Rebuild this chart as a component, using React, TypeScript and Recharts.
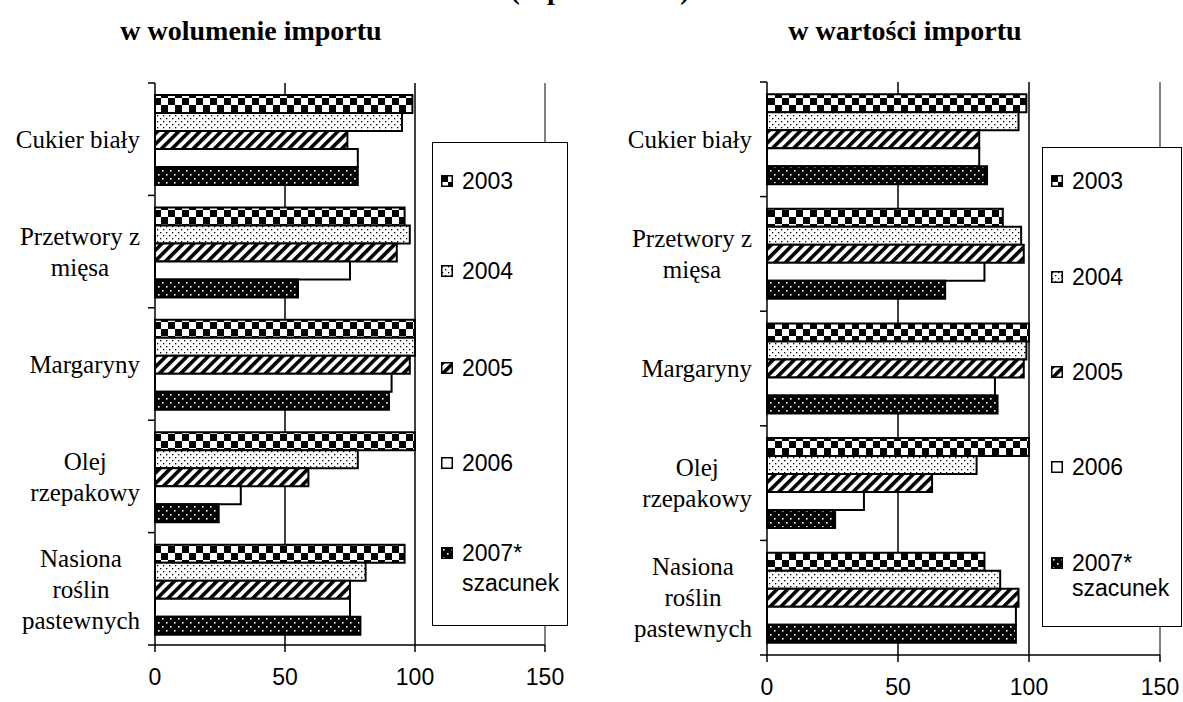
import React from 'react';
import { BarChart, Bar, XAxis, YAxis, CartesianGrid, Legend, ReferenceLine } from 'recharts';

// ---------- data ----------
const categories = ['Cukier biały', 'Przetwory z mięsa', 'Margaryny', 'Olej rzepakowy', 'Nasiona roślin pastewnych'];
const categoryLines = [['Cukier biały'], ['Przetwory z', 'mięsa'], ['Margaryny'], ['Olej', 'rzepakowy'], ['Nasiona', 'roślin', 'pastewnych']];
const seriesKeys = ['y2003', 'y2004', 'y2005', 'y2006', 'y2007'];
const seriesNames = ['2003', '2004', '2005', '2006', '2007* szacunek'];
const legendLines = [['2003'], ['2004'], ['2005'], ['2006'], ['2007*', 'szacunek']];
const xTicks = [0, 50, 100, 150];
const gridValues = [50, 100];

// w wolumenie importu
const volume2003 = [99, 96, 100, 100, 96];
const volume2004 = [95, 98, 100, 78, 81];
const volume2005 = [74, 93, 98, 59, 75];
const volume2006 = [78, 75, 91, 33, 75];
const volume2007 = [78, 55, 90, 24.5, 79];

// w wartości importu
const value2003 = [99, 90, 100, 100, 83];
const value2004 = [96, 97, 99, 80, 89];
const value2005 = [81, 98, 98, 63, 96];
const value2006 = [81, 83, 87, 37, 95];
const value2007 = [84, 68, 88, 26, 95];

const titleTop = '(w procentach)';
const titleLeft = 'w wolumenie importu';
const titleRight = 'w wartości importu';

const buildData = (s: number[][]) =>
  categories.map((name, i) => {
    const row: any = { name };
    seriesKeys.forEach((k, j) => (row[k] = s[j][i]));
    return row;
  });

const volumeData = buildData([volume2003, volume2004, volume2005, volume2006, volume2007]);
const valueData = buildData([value2003, value2004, value2005, value2006, value2007]);

// ---------- styles ----------
const SERIF = "'Liberation Serif', 'Times New Roman', serif";
const SANS = "'Liberation Sans', Arial, sans-serif";

const patternDefs = (p: string) => (
  <defs>
    <pattern id={`${p}-checker`} width={14} height={14} patternUnits="userSpaceOnUse">
      <rect width={14} height={14} fill="#fff" />
      <rect x={0} y={0} width={7} height={7} fill="#000" />
      <rect x={7} y={7} width={7} height={7} fill="#000" />
    </pattern>
    <pattern id={`${p}-dots`} width={6} height={6} patternUnits="userSpaceOnUse">
      <rect width={6} height={6} fill="#fff" />
      <rect x={1} y={1} width={1.3} height={1.3} fill="#000" />
      <rect x={4} y={4} width={1.3} height={1.3} fill="#000" />
    </pattern>
    <pattern id={`${p}-diag`} width={7.5} height={7.5} patternUnits="userSpaceOnUse" patternTransform="rotate(45)">
      <rect width={7.5} height={7.5} fill="#fff" />
      <rect x={0} y={0} width={3.6} height={7.5} fill="#000" />
    </pattern>
    <pattern id={`${p}-darkdots`} width={8} height={8} patternUnits="userSpaceOnUse">
      <rect width={8} height={8} fill="#000" />
      <rect x={2} y={2} width={1.6} height={1.6} fill="#fff" />
      <rect x={6} y={6} width={1.6} height={1.6} fill="#fff" />
    </pattern>
  </defs>
);

const fillFor = (p: string, i: number) =>
  [`url(#${p}-checker)`, `url(#${p}-dots)`, `url(#${p}-diag)`, '#fff', `url(#${p}-darkdots)`][i];

let measureCtx: CanvasRenderingContext2D | null = null;
const textWidth = (s: string, font: string) => {
  if (!measureCtx && typeof document !== 'undefined') {
    measureCtx = document.createElement('canvas').getContext('2d');
  }
  if (!measureCtx) return s.length * 11;
  measureCtx.font = font;
  return measureCtx.measureText(s).width;
};

const makeYTick = (axisX: number, bandHalf: number) => (props: any) => {
  const { y, payload } = props;
  const idx = categories.indexOf(payload.value);
  const lines = categoryLines[idx] || [String(payload.value)];
  const off = typeof payload.offset === 'number' && payload.offset > 0 ? payload.offset : bandHalf;
  const font = '25px "Liberation Serif"';
  const w = Math.max(...lines.map((l) => textWidth(l, font)));
  const cx = axisX - 15 - w / 2;
  const last = idx === categories.length - 1;
  return (
    <g>
      <line x1={axisX - 7} x2={axisX} y1={y - off} y2={y - off} stroke="#000" strokeWidth={1.5} />
      {last && <line x1={axisX - 7} x2={axisX} y1={y + off} y2={y + off} stroke="#000" strokeWidth={1.5} />}
      <text textAnchor="middle" fontFamily={SERIF} fontSize={25} fill="#000">
        {lines.map((l, i) => (
          <tspan key={i} x={cx} y={y + (i - (lines.length - 1) / 2) * 31} dy="0.35em">
            {l}
          </tspan>
        ))}
      </text>
    </g>
  );
};

const makeLegend = (prefix: string, box: any, rows: number[], line2Gap: number) => (props: any) => {
  const payload = props.payload || [];
  return (
    <div
      style={{
        position: 'relative',
        width: box.w,
        height: box.h,
        border: '1.5px solid #000',
        boxSizing: 'border-box',
        background: '#fff',
        fontFamily: SANS,
        fontSize: 23,
        color: '#000',
      }}
    >
      {payload.map((entry: any, i: number) => {
        const lines = legendLines[i] || [String(entry.value)];
        const rowTop = rows[i] - box.top;
        return (
          <div key={i}>
            <svg
              width={12}
              height={12}
              style={{ position: 'absolute', left: 8, top: rowTop - 7 }}
            >
              <rect x={0.75} y={0.75} width={10.5} height={10.5} fill={fillFor(prefix, i)} stroke="#000" strokeWidth={1.5} />
            </svg>
            {lines.map((l, j) => (
              <div
                key={j}
                style={{
                  position: 'absolute',
                  left: 29,
                  top: rowTop - 14 + j * line2Gap,
                  lineHeight: '26px',
                  whiteSpace: 'nowrap',
                }}
              >
                {l}
              </div>
            ))}
          </div>
        );
      })}
    </div>
  );
};

function Panel(cfg: any) {
  const {
    prefix, data, panelLeft, width, yAxisWidth, marginRight, marginTop, xAxisHeight,
    legendBox, legendRows, line2Gap,
  } = cfg;
  const height = 702;
  const bandHalf = (height - marginTop - xAxisHeight) / categories.length / 2;
  return (
    <div style={{ position: 'absolute', left: panelLeft, top: 0 }}>
      <BarChart
        width={width}
        height={height}
        data={data}
        layout="vertical"
        margin={{ top: marginTop, right: marginRight, bottom: 0, left: 0 }}
        barCategoryGap="10.7%"
        barGap={0}
      >
        {patternDefs(prefix)}
        <CartesianGrid horizontal={false} vertical verticalValues={gridValues} stroke="#000" strokeWidth={1.5} />
        <XAxis
          type="number"
          domain={[0, 150]}
          ticks={xTicks}
          interval={0}
          height={xAxisHeight}
          tickSize={7}
          tickMargin={17}
          axisLine={{ stroke: '#000', strokeWidth: 1.5 }}
          tickLine={{ stroke: '#000', strokeWidth: 1.5 }}
          tick={{ fill: '#000', fontSize: 23, fontFamily: SANS }}
        />
        <XAxis
          xAxisId="top"
          orientation="top"
          type="number"
          domain={[0, 150]}
          height={0}
          tick={false}
          tickLine={false}
          axisLine={{ stroke: '#808080', strokeWidth: 2 }}
        />
        <YAxis
          type="category"
          dataKey="name"
          width={yAxisWidth}
          interval={0}
          tickLine={false}
          tickSize={7}
          tickMargin={0}
          axisLine={{ stroke: '#000', strokeWidth: 1.5 }}
          tick={makeYTick(yAxisWidth, bandHalf)}
        />
        <ReferenceLine x={150} stroke="#808080" strokeWidth={2} />
        {seriesKeys.map((k, i) => (
          <Bar
            key={k}
            dataKey={k}
            name={seriesNames[i]}
            fill={fillFor(prefix, i)}
            stroke="#000"
            strokeWidth={2}
            isAnimationActive={false}
          />
        ))}
        <Legend
          layout="horizontal"
          verticalAlign="middle"
          align="center"
          content={makeLegend(prefix, legendBox, legendRows, line2Gap)}
          wrapperStyle={{ position: 'absolute', left: legendBox.left, top: legendBox.top, width: legendBox.w, height: legendBox.h }}
        />
      </BarChart>
    </div>
  );
}

export default function App() {
  return (
    <div
      style={{
        position: 'absolute',
        left: 0,
        top: 0,
        width: 1183,
        height: 702,
        background: '#fff',
        overflow: 'hidden',
      }}
    >
      <svg width={1183} height={702} style={{ position: 'absolute', left: 0, top: 0 }}>
        <text x={600} y={-1} textAnchor="middle" fontFamily={SERIF} fontWeight="bold" fontSize={28} fill="#000">
          {titleTop}
        </text>
        <text x={251} y={40} textAnchor="middle" fontFamily={SERIF} fontWeight="bold" fontSize={28} fill="#000">
          {titleLeft}
        </text>
        <text x={905} y={40} textAnchor="middle" fontFamily={SERIF} fontWeight="bold" fontSize={28} fill="#000">
          {titleRight}
        </text>
      </svg>
      <Panel
        prefix="l"
        data={volumeData}
        panelLeft={0}
        width={600}
        yAxisWidth={155}
        marginRight={55}
        marginTop={83}
        xAxisHeight={57}
        legendBox={{ left: 432, top: 142, w: 136, h: 484 }}
        legendRows={[181, 271, 368, 463, 553]}
        line2Gap={30}
      />
      <Panel
        prefix="r"
        data={valueData}
        panelLeft={600}
        width={583}
        yAxisWidth={167}
        marginRight={23}
        marginTop={82}
        xAxisHeight={47}
        legendBox={{ left: 442, top: 147, w: 140, h: 480 }}
        legendRows={[181, 277, 372, 467, 563]}
        line2Gap={25}
      />
    </div>
  );
}
